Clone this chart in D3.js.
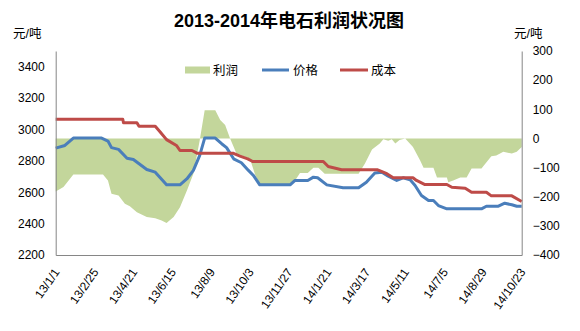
<!DOCTYPE html>
<html><head><meta charset="utf-8">
<script src="https://cdn.jsdelivr.net/npm/d3@7"></script>
<style>
body{margin:0;background:#fff;}
svg text{font-family:"Liberation Sans","Noto Sans CJK SC",sans-serif;fill:#000;}
</style></head>
<body><svg id="c" width="580" height="331"></svg>
<script>
const title = "2013-2014年电石利润状况图";
const unitLabel = "元/吨";
const seriesNames = ["利润", "价格", "成本"];
const xTickDates = ["2013-01-01","2013-02-25","2013-04-21","2013-06-15","2013-08-09","2013-10-03","2013-11-27","2014-01-21","2014-03-17","2014-05-11","2014-07-05","2014-08-29","2014-10-23"];
const leftTicks = [2200, 2400, 2600, 2800, 3000, 3200, 3400];
const rightTicks = [-400, -300, -200, -100, 0, 100, 200, 300];

// 利润 (right axis)
const profit = [
["2013-01-01",-182],["2013-01-12",-167],["2013-01-26",-124],["2013-03-09",-124],["2013-03-16",-144],
["2013-03-21",-190],["2013-03-31",-196],["2013-04-09",-224],["2013-04-16",-233],["2013-04-26",-253],
["2013-05-10",-270],["2013-05-22",-274],["2013-05-31",-282],["2013-06-07",-290],["2013-06-17",-270],
["2013-06-26",-236],["2013-07-06",-178],["2013-07-15",-121],["2013-07-24",-6],["2013-07-31",97],
["2013-08-15",97],["2013-08-22",63],["2013-08-29",46],["2013-09-05",0],["2013-09-14",-52],
["2013-10-03",-69],["2013-10-10",-121],["2013-10-17",-159],["2013-11-29",-159],["2013-12-06",-144],
["2013-12-13",-119],["2013-12-24",-119],["2014-01-01",-101],["2014-01-08",-101],["2014-01-17",-121],
["2014-03-06",-121],["2014-03-15",-86],["2014-03-25",-38],["2014-04-05",-17],["2014-04-10",-3],
["2014-04-17",-8],["2014-04-22",-3],["2014-04-27",-17],["2014-05-03",-5],["2014-05-11",0],
["2014-05-22",-29],["2014-06-01",-75],["2014-06-06",-101],["2014-06-20",-101],["2014-06-25",-134],
["2014-07-09",-134],["2014-07-11",-150],["2014-07-18",-144],["2014-07-28",-134],["2014-08-06",-134],
["2014-08-13",-103],["2014-08-27",-103],["2014-09-10",-61],["2014-09-17",-59],["2014-09-27",-46],
["2014-10-09",-52],["2014-10-16",-46],["2014-10-23",-29]
];
// 价格 (left axis)
const price = [
["2013-01-01",2881],["2013-01-14",2898],["2013-01-26",2945],["2013-03-07",2945],["2013-03-16",2926],
["2013-03-21",2884],["2013-03-31",2873],["2013-04-12",2817],["2013-04-21",2809],["2013-05-10",2745],
["2013-05-22",2728],["2013-06-07",2647],["2013-06-26",2647],["2013-07-06",2686],["2013-07-15",2739],
["2013-07-24",2835],["2013-07-31",2945],["2013-08-15",2945],["2013-08-24",2909],["2013-08-31",2884],
["2013-09-10",2813],["2013-09-21",2788],["2013-10-01",2739],["2013-10-08",2707],["2013-10-17",2647],
["2013-11-29",2647],["2013-12-06",2675],["2013-12-24",2675],["2014-01-01",2696],["2014-01-07",2692],
["2014-01-20",2647],["2014-02-12",2628],["2014-03-06",2628],["2014-03-17",2664],["2014-03-29",2722],
["2014-04-08",2728],["2014-04-17",2702],["2014-04-29",2675],["2014-05-08",2692],["2014-05-18",2679],
["2014-05-25",2643],["2014-06-03",2579],["2014-06-13",2547],["2014-06-20",2547],["2014-06-27",2515],
["2014-07-09",2494],["2014-08-27",2494],["2014-09-03",2511],["2014-09-20",2511],["2014-09-29",2530],
["2014-10-09",2520],["2014-10-16",2511],["2014-10-23",2511]
];
// 成本 (left axis)
const cost = [
["2013-01-01",3065],["2013-04-06",3065],["2013-04-07",3043],["2013-04-26",3043],["2013-04-29",3020],
["2013-05-22",3020],["2013-05-29",2984],["2013-06-07",2935],["2013-06-21",2898],["2013-06-26",2866],
["2013-07-13",2866],["2013-07-20",2849],["2013-09-09",2849],["2013-09-19",2830],["2013-09-30",2813],
["2013-10-07",2796],["2014-01-15",2796],["2014-01-22",2764],["2014-02-10",2743],["2014-04-02",2743],
["2014-04-15",2718],["2014-04-24",2692],["2014-05-22",2692],["2014-05-27",2675],["2014-06-08",2649],
["2014-07-09",2649],["2014-07-16",2632],["2014-08-04",2626],["2014-08-13",2600],["2014-09-03",2600],
["2014-09-10",2577],["2014-10-09",2577],["2014-10-23",2541]
];

const parse = d3.timeParse("%Y-%m-%d");
const fmt = d => `${d.getFullYear()%100}/${d.getMonth()+1}/${d.getDate()}`;
const svg = d3.select("#c");
const L = 55.7, R = 521.7, T = 51, B = 255;

const x = d3.scaleTime().domain([parse("2013-01-01"), parse("2014-10-23")]).range([L, R]);
const yL = d3.scaleLinear().domain([2200, 3500]).range([B, T]);
const yR = d3.scaleLinear().domain([-400, 300]).range([B, T]);

const colors = {profit:"#C3D69B", price:"#4A7EBB", cost:"#BE4B48"};

// area
svg.append("path")
  .datum(profit)
  .attr("fill", colors.profit)
  .attr("d", d3.area().x(d => x(parse(d[0]))).y0(yR(0)).y1(d => yR(d[1])));

const line = (sc) => d3.line().x(d => x(parse(d[0]))).y(d => sc(d[1]));
svg.append("path").datum(price).attr("fill","none").attr("stroke",colors.price)
  .attr("stroke-width",3).attr("stroke-linejoin","round").attr("d", line(yL));
svg.append("path").datum(cost).attr("fill","none").attr("stroke",colors.cost)
  .attr("stroke-width",3).attr("stroke-linejoin","round").attr("d", line(yL));

// axes
const axisColor = "#868686";
const gL = svg.append("g").attr("transform",`translate(${L},0)`)
  .call(d3.axisLeft(yL).tickValues(leftTicks).tickSize(0).tickSizeOuter(0).tickPadding(11)
    .tickFormat(d3.format("d")));
const gR = svg.append("g").attr("transform",`translate(${R},0)`)
  .call(d3.axisRight(yR).tickValues(rightTicks).tickSize(0).tickSizeOuter(0).tickPadding(11)
    .tickFormat(d => d < 0 ? "\u2212" + Math.abs(d) : d));
const gB = svg.append("g").attr("transform",`translate(0,${B})`)
  .call(d3.axisBottom(x).tickValues(xTickDates.map(parse)).tickFormat(fmt).tickSize(0).tickSizeOuter(0));
gB.selectAll("text").attr("x",0).attr("y",0).attr("dy",0)
  .attr("text-anchor","end").attr("transform","translate(4,17) rotate(-55)");
[gL,gR,gB].forEach(g => {
  g.select(".domain").attr("stroke",axisColor).attr("stroke-width",1);
  g.selectAll("text").style("font-size","12px").attr("fill","#000");
});

// title and units
svg.append("text").attr("x",289).attr("y",27).attr("text-anchor","middle")
  .style("font-size","18px").style("font-weight","bold").text(title);
svg.append("text").attr("x",13).attr("y",38).style("font-size","12.5px").text(unitLabel);
svg.append("text").attr("x",514).attr("y",38).style("font-size","12.5px").text(unitLabel);

// legend
const lg = svg.append("g").style("font-size","12.5px");
lg.append("rect").attr("x",185).attr("y",66.5).attr("width",25).attr("height",7).attr("fill",colors.profit);
lg.append("text").attr("x",213).attr("y",74.5).text(seriesNames[0]);
lg.append("line").attr("x1",262).attr("x2",289).attr("y1",70).attr("y2",70).attr("stroke",colors.price).attr("stroke-width",3);
lg.append("text").attr("x",293).attr("y",74.5).text(seriesNames[1]);
lg.append("line").attr("x1",340).attr("x2",368).attr("y1",70).attr("y2",70).attr("stroke",colors.cost).attr("stroke-width",3);
lg.append("text").attr("x",371).attr("y",74.5).text(seriesNames[2]);
</script></body></html>
